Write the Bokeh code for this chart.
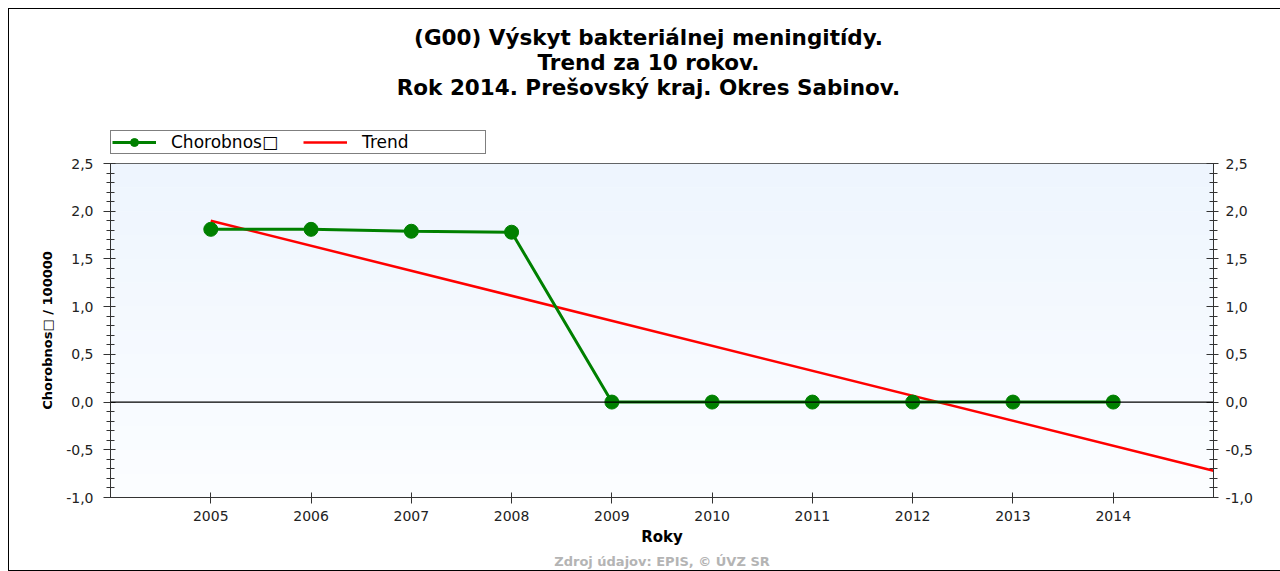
from bokeh.plotting import figure
from bokeh.layouts import column
from bokeh.models import (Title, Legend, LegendItem, FixedTicker, LinearAxis, Range1d,
                          Span, Label, BoxAnnotation)
from bokeh.embed import file_html
from bokeh.resources import INLINE

# ---- data ----
years = [2005, 2006, 2007, 2008, 2009, 2010, 2011, 2012, 2013, 2014]
chorobnost = [1.81, 1.81, 1.79, 1.78, 0.0, 0.0, 0.0, 0.0, 0.0, 0.0]
trend_years = [2005, 2015]
trend_values = [1.90, -0.72]

y_ticks = [-1.0, -0.5, 0.0, 0.5, 1.0, 1.5, 2.0, 2.5]
y_tick_labels = ["-1,0", "-0,5", "0,0", "0,5", "1,0", "1,5", "2,0", "2,5"]
y_minor = [round(-1.0 + 0.1 * i, 1) for i in range(36)]

title_lines = ["(G00) Výskyt bakteriálnej meningitídy.",
               "Trend za 10 rokov.",
               "Rok 2014. Prešovský kraj. Okres Sabinov."]
series_label = "Chorobnos\u25a1"
trend_label = "Trend"
y_label = "Chorobnos\u25a1 / 100000"
x_label = "Roky"
source_text = "Zdroj údajov: EPIS, © ÚVZ SR"

FONT = "DejaVu Sans"
GREEN = "#008000"
RED = "#FF0000"
TOP_H = 155

# ---------- header figure: titles + legend ----------
# (its frame is aligned by the column with the main frame, x from 110 px)
h = figure(width=1280, height=TOP_H, output_backend="svg", toolbar_location=None,
           x_axis_type=None, y_axis_type=None, x_range=Range1d(0, 1), y_range=Range1d(0, 1),
           min_border_left=0, min_border_right=0, min_border_top=0, min_border_bottom=0)
h.border_fill_color = None
h.background_fill_color = None
h.outline_line_color = None
h.xgrid.visible = False
h.ygrid.visible = False
h.styles = {"box-shadow": "inset 8px 8px 0 0 #ffffff, inset 9px 9px 0 0 #000000"}

for i, line in enumerate(title_lines):
    h.add_layout(Label(x=538, y=TOP_H - 37 - 25 * i, x_units="screen", y_units="screen",
                       text=line, text_align="center", text_baseline="middle",
                       text_font=FONT, text_font_style="bold", text_font_size="21.5px",
                       text_color="#000000"))

# legend-only renderers, kept outside the header's visible range
hidden_x = [5, 6]
hidden_y = [5, 6]
lg_line = h.line(hidden_x, hidden_y, line_color=GREEN, line_width=3)
lg_pts = h.scatter(hidden_x, hidden_y, size=14, fill_color=GREEN, line_color=GREEN,
                   marker="circle")
lg_trend = h.line(hidden_x, hidden_y, line_color=RED, line_width=2.5)

legend = Legend(items=[LegendItem(label=series_label, renderers=[lg_line, lg_pts]),
                       LegendItem(label=trend_label, renderers=[lg_trend])],
                orientation="horizontal", location=(0, 1), margin=0,
                padding=1, spacing=10, glyph_width=44, glyph_height=20,
                label_width=122, label_height=14, label_standoff=15,
                label_text_font=FONT, label_text_font_size="17px",
                label_text_color="#000000",
                border_line_color="#000000", border_line_width=1,
                background_fill_color="#FFFFFF", background_fill_alpha=1)
h.add_layout(legend)

# ---------- main figure ----------
p = figure(width=1280, height=571 - TOP_H, output_backend="svg", toolbar_location=None,
           x_range=Range1d(2004, 2015), y_range=Range1d(-1.0, 2.5),
           min_border_left=110, min_border_right=67, min_border_top=8,
           min_border_bottom=74)
p.border_fill_color = None
p.styles = {"box-shadow": "inset 8px 0 0 0 #ffffff, inset 9px 0 0 0 #000000, "
                          "inset 0 -1px 0 0 #000000"}
p.background_fill_color = "#F8FBFF"
p.outline_line_color = "#333333"
p.outline_line_width = 1
p.xgrid.visible = False
p.ygrid.visible = False

# vertical background gradient (light blue at top -> near white at bottom)
n_bands = 14
band_edges = [-1.0 + 3.5 * k / n_bands for k in range(n_bands + 1)]
top_rgb = (0xEE, 0xF5, 0xFE)
bot_rgb = (0xFB, 0xFD, 0xFF)
for k in range(n_bands):
    f = (k + 0.5) / n_bands
    rgb = tuple(round(b + (t - b) * f) for t, b in zip(top_rgb, bot_rgb))
    p.add_layout(BoxAnnotation(bottom=band_edges[k], top=band_edges[k + 1],
                               fill_color="#%02x%02x%02x" % rgb, fill_alpha=1,
                               line_color=None, level="underlay"))

p.add_layout(Span(location=0, dimension="width", line_color="#000000", line_width=1.3))

p.line(trend_years, trend_values, line_color=RED, line_width=2.5)
p.line(years, chorobnost, line_color=GREEN, line_width=3)
p.scatter(years, chorobnost, size=14, fill_color=GREEN, line_color=GREEN, marker="circle")

def style_axis(ax):
    ax.axis_line_color = "#333333"
    ax.major_tick_line_color = "#333333"
    ax.minor_tick_line_color = "#333333"
    ax.major_label_text_font = FONT
    ax.major_label_text_font_size = "14px"
    ax.major_label_text_color = "#222222"
    ax.axis_label_text_font = FONT
    ax.axis_label_text_font_style = "bold"
    ax.axis_label_text_color = "#000000"

xa = p.xaxis[0]
xa.ticker = FixedTicker(ticks=years)
style_axis(xa)
xa.major_tick_out = 6
xa.major_tick_in = 5
xa.major_label_standoff = 7
xa.axis_label = x_label
xa.axis_label_text_font_size = "15px"
xa.axis_label_standoff = 4

overrides = {t: l for t, l in zip(y_ticks, y_tick_labels)}

ya = p.yaxis[0]
ya.ticker = FixedTicker(ticks=y_ticks, minor_ticks=y_minor)
style_axis(ya)
ya.major_label_overrides = overrides
ya.major_tick_out = 7
ya.major_tick_in = 5
ya.minor_tick_out = 4
ya.minor_tick_in = 4
ya.major_label_standoff = 10
ya.axis_label = y_label
ya.axis_label_text_font_size = "13px"
ya.axis_label_standoff = 8

yr = LinearAxis(ticker=FixedTicker(ticks=y_ticks, minor_ticks=y_minor))
style_axis(yr)
yr.major_label_overrides = overrides
yr.major_tick_out = 5
yr.major_tick_in = 7
yr.minor_tick_out = 4
yr.minor_tick_in = 4
yr.major_label_standoff = 7
p.add_layout(yr, "right")

src = Title(text=source_text, align="center", offset=-11, text_font=FONT,
            text_font_style="bold", text_font_size="13px", text_color="#B4B4B4",
            standoff=6)
p.add_layout(src, "below")

layout = column(h, p, spacing=0)
open("out.html", "w").write(file_html(layout, INLINE))
